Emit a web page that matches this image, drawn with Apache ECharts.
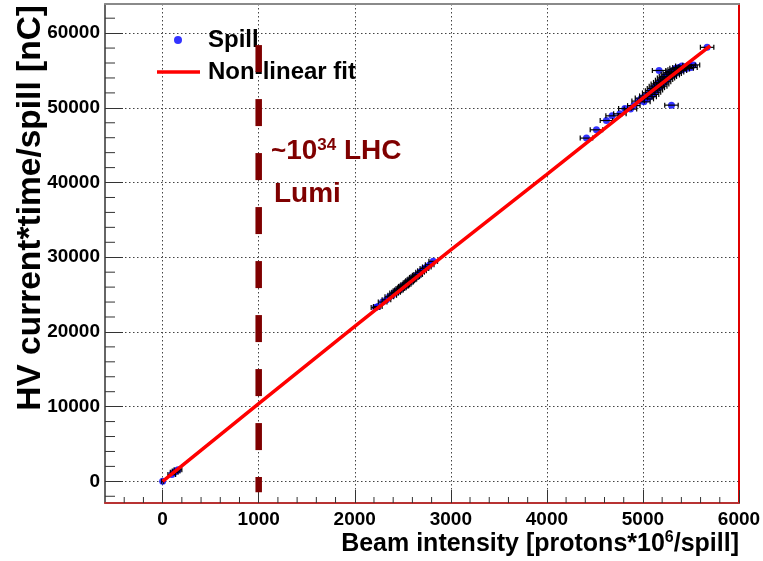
<!DOCTYPE html>
<html><head><meta charset="utf-8">
<script src="https://cdn.jsdelivr.net/npm/echarts@6/dist/echarts.min.js"></script>
<style>html,body{margin:0;padding:0;background:#fff}#c{width:763px;height:561px}</style>
</head><body><div id="c"></div>
<script>
// ---- tick labels / ranges ----
const xRange = [-600, 6000];
const yRange = [-2900, 63900];
const xTicks = [0, 1000, 2000, 3000, 4000, 5000, 6000];
const yTicks = [0, 10000, 20000, 30000, 40000, 50000, 60000];
const xMinorTicks = [-400, -200, 200, 400, 600, 800, 1200, 1400, 1600, 1800, 2200, 2400, 2600, 2800,
  3200, 3400, 3600, 3800, 4200, 4400, 4600, 4800, 5200, 5400, 5600, 5800];
const yMinorTicks = [-2000, 2000, 4000, 6000, 8000, 12000, 14000, 16000, 18000, 22000, 24000, 26000, 28000,
  32000, 34000, 36000, 38000, 42000, 44000, 46000, 48000, 52000, 54000, 56000, 58000, 62000];

// ---- Spill measurements ----
const spillX = [0, 95, 120, 140, 160,
  2216, 2240, 2290, 2330, 2360, 2390, 2410, 2430, 2445, 2460, 2475, 2490, 2500, 2515, 2525, 2540,
  2550, 2565, 2575, 2590, 2600, 2615, 2630, 2645, 2660, 2680, 2700, 2725, 2750, 2780, 2817,
  4412, 4516, 4620, 4679, 4760, 4812, 4870, 4905, 4950, 4985, 5010, 5030, 5045, 5060, 5075, 5090,
  5100, 5110, 5120, 5130, 5140, 5150, 5160, 5168, 5175, 5185, 5195, 5205, 5215, 5225, 5235, 5245,
  5255, 5265, 5275, 5285, 5297, 5305, 5315, 5325, 5335, 5345, 5360, 5375, 5390, 5405, 5420, 5440,
  5460, 5480, 5500, 5526, 5668];
const spillY = [0, 900, 1200, 1400, 1550,
  23260, 23400, 24000, 24300, 24700, 24900, 25200, 25300, 25500, 25600, 25800, 25900, 26100, 26150, 26300, 26400,
  26600, 26700, 26850, 27000, 27100, 27300, 27400, 27600, 27700, 28000, 28200, 28500, 28700, 29000, 29450,
  45950, 47060, 48300, 48930, 49200, 49900, 49830, 50300, 50900, 51300, 50800, 51600, 51200, 52000, 51500, 52300,
  51800, 52600, 52100, 52900, 52400, 53200, 52700, 55000, 53400, 52900, 53700, 53200, 54000, 53500, 54200, 53800,
  54500, 54000, 54700, 54200, 50360, 54900, 54400, 55100, 54600, 55300, 54800, 55400, 55000, 55600, 55200, 55500,
  55300, 55700, 55400, 55750, 58100];
const spillXErr = [10, 40, 40, 40, 40,
  45, 45, 45, 45, 45, 45, 45, 45, 45, 45, 45, 45, 45, 45, 45, 45,
  45, 45, 45, 45, 45, 45, 45, 45, 45, 45, 45, 45, 45, 45, 45,
  65, 65, 65, 65, 65, 65, 65, 65, 65, 65, 65, 65, 65, 65, 65, 65,
  65, 65, 65, 65, 65, 65, 65, 70, 65, 65, 65, 65, 65, 65, 65, 65,
  65, 65, 65, 65, 70, 65, 65, 65, 65, 65, 65, 65, 65, 65, 65, 65,
  65, 65, 65, 65, 70];

// ---- Non-linear fit ----
const fitX = [0, 1000, 2000, 3000, 4000, 5000, 5700];
const fitY = [0, 10400, 20750, 31000, 41100, 51300, 58300];

// ---- ~10^34 LHC luminosity marker ----
const lumiX = [1000, 1000];
const lumiY = [58400, -1470];

const FONT = "'Liberation Sans', Arial, Helvetica, sans-serif";
const DARKRED = '#7f0000';

const chart = echarts.init(document.getElementById('c'), null, {renderer: 'canvas'});

const spillData = spillX.map((x, i) => [x, spillY[i], spillXErr[i]]);
const fitData = fitX.map((x, i) => [x, fitY[i]]);
const lumiData = lumiX.map((x, i) => [x, lumiY[i]]);

function minorX(params, api) {
  const cs = params.coordSys;
  const x = api.coord([api.value(0), 0])[0];
  const yb = cs.y + cs.height;
  return {type: 'line', shape: {x1: x, y1: yb, x2: x, y2: yb - 6}, style: {stroke: '#333', lineWidth: 1}};
}
function minorY(params, api) {
  const cs = params.coordSys;
  const y = api.coord([0, api.value(1)])[1];
  return {type: 'line', shape: {x1: cs.x, y1: y, x2: cs.x + 10, y2: y}, style: {stroke: '#333', lineWidth: 1}};
}
function errBar(params, api) {
  const x = api.value(0), y = api.value(1), ex = api.value(2);
  const p0 = api.coord([x - ex, y]);
  const p1 = api.coord([x + ex, y]);
  return {type: 'group', children: [
    {type: 'line', shape: {x1: p0[0], y1: p0[1], x2: p1[0], y2: p1[1]}, style: {stroke: '#000', lineWidth: 1.2}},
    {type: 'line', shape: {x1: p0[0], y1: p0[1] - 2.5, x2: p0[0], y2: p0[1] + 2.5}, style: {stroke: '#000', lineWidth: 1.2}},
    {type: 'line', shape: {x1: p1[0], y1: p1[1] - 2.5, x2: p1[0], y2: p1[1] + 2.5}, style: {stroke: '#000', lineWidth: 1.2}}
  ]};
}

const labelStyle = {color: '#000', fontFamily: FONT, fontWeight: 'bold', fontSize: 19};

chart.setOption({
  animation: false,
  backgroundColor: '#fff',
  grid: {left: 105, right: 24, top: 4, bottom: 58, containLabel: false, outerBoundsMode: 'none'},
  legend: [
    {data: ['Spill'], left: 169, top: 23, orient: 'vertical', icon: 'circle', itemWidth: 8, itemHeight: 8,
     textStyle: {fontFamily: FONT, fontWeight: 'bold', fontSize: 24, color: '#000', padding: [0, 0, 0, 21]}},
    {data: ['Non-linear fit'], left: 152, top: 55, orient: 'vertical', icon: 'rect', itemWidth: 43, itemHeight: 3.5,
     textStyle: {fontFamily: FONT, fontWeight: 'bold', fontSize: 24, color: '#000', padding: [0, 0, 0, 3]}}
  ],
  xAxis: [
    {type: 'value', min: xRange[0], max: xRange[1], splitNumber: 6, position: 'bottom',
     name: 'Beam intensity [protons*10{sup|6}/spill]', nameLocation: 'end', nameGap: 0,
     nameTextStyle: {fontFamily: FONT, fontWeight: 'bold', fontSize: 25, color: '#000', align: 'right', verticalAlign: 'top',
       padding: [27, 0, 0, 0], rich: {sup: {fontFamily: FONT, fontWeight: 'bold', fontSize: 16, color: '#000', verticalAlign: 'top', padding: [0, 0, 12, 0]}}},
     axisLine: {onZero: false, lineStyle: {color: '#b83232', width: 2}},
     axisTick: {inside: true, length: 13, customValues: xTicks, lineStyle: {color: '#333', width: 1}},
     axisLabel: {customValues: xTicks, margin: 7, formatter: v => String(v), ...labelStyle},
     splitLine: {show: true, lineStyle: {color: '#444', type: [1.5, 2.5], width: 1}}},
    {type: 'value', min: xRange[0], max: xRange[1], position: 'top',
     axisLine: {onZero: false, lineStyle: {color: '#8a8a8a', width: 2}},
     axisTick: {show: false}, axisLabel: {show: false}, splitLine: {show: false}}
  ],
  yAxis: [
    {type: 'value', min: yRange[0], max: yRange[1], splitNumber: 6, position: 'left',
     axisLine: {onZero: false, lineStyle: {color: '#333', width: 1.5}},
     axisTick: {inside: true, length: 18, customValues: yTicks, lineStyle: {color: '#333', width: 1}},
     axisLabel: {customValues: yTicks, margin: 5, formatter: v => String(v), ...labelStyle},
     splitLine: {show: true, lineStyle: {color: '#444', type: [1.5, 2.5], width: 1}}},
    {type: 'value', min: yRange[0], max: yRange[1], position: 'right',
     axisLine: {onZero: false, lineStyle: {color: '#e00000', width: 2}},
     axisTick: {show: false}, axisLabel: {show: false}, splitLine: {show: false}}
  ],
  series: [
    {type: 'custom', name: 'xminor', renderItem: minorX, data: xMinorTicks.map(v => [v, 0]), silent: true, z: 1},
    {type: 'custom', name: 'yminor', renderItem: minorY, data: yMinorTicks.map(v => [0, v]), silent: true, z: 1},
    {type: 'scatter', name: 'Spill', data: spillData.map(d => [d[0], d[1]]), symbol: 'circle', symbolSize: 7,
     itemStyle: {color: '#0000ff'}, z: 3},
    {type: 'custom', name: 'Spill errors', renderItem: errBar, data: spillData, z: 4, silent: true},
    {type: 'line', name: 'Non-linear fit', data: fitData, showSymbol: false, symbol: 'none',
     lineStyle: {color: '#ff0000', width: 3.5}, itemStyle: {color: '#ff0000'}, z: 5},
    {type: 'line', name: 'lumi', data: lumiData, showSymbol: false, symbol: 'none',
     lineStyle: {color: DARKRED, width: 6.5, type: [27, 27]}, z: 6}
  ],
  graphic: [
    {type: 'text', x: 31, y: 5, rotation: Math.PI / 2, z: 10,
     style: {text: 'HV current*time/spill [nC]', fill: '#000', font: 'bold 33.5px ' + FONT,
       align: 'right', verticalAlign: 'middle'}},
    {type: 'text', left: 271, top: 137, z: 10,
     style: {text: '{t|~}{m|10}{s|34}{m| LHC}', fill: DARKRED, font: 'bold 28px ' + FONT,
       rich: {t: {fontSize: 26, fontWeight: 'bold', fontFamily: FONT, fill: DARKRED, verticalAlign: 'bottom', lineHeight: 28},
              m: {fontSize: 28, fontWeight: 'bold', fontFamily: FONT, fill: DARKRED, lineHeight: 28},
              s: {fontSize: 17, fontWeight: 'bold', fontFamily: FONT, fill: DARKRED, verticalAlign: 'top', lineHeight: 17}}}},
    {type: 'text', left: 274, top: 180, z: 10,
     style: {text: 'Lumi', fill: DARKRED, font: 'bold 28px ' + FONT}}
  ]
});
</script>
</body></html>
